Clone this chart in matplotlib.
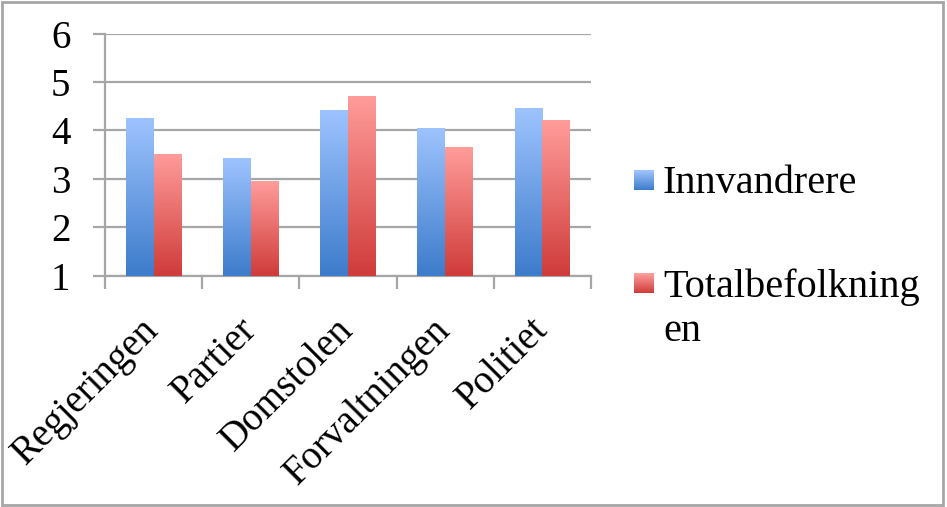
import numpy as np
import matplotlib
matplotlib.use('Agg')
import matplotlib.pyplot as plt
from matplotlib.patches import Rectangle

# data
categories = ['Regjeringen', 'Partier', 'Domstolen', 'Forvaltningen', 'Politiet']
series_names = ['Innvandrere', 'Totalbefolkning\nen']
innvandrere = [4.25, 3.43, 4.42, 4.05, 4.46]
totalbefolkning = [3.52, 2.95, 4.72, 3.65, 4.22]
y_ticks = [1, 2, 3, 4, 5, 6]

plt.rcParams['font.family'] = ['Liberation Serif', 'DejaVu Serif']
grey = '#a6a6a6'
blue_top, blue_bot = np.array([157, 195, 254]) / 255, np.array([61, 124, 203]) / 255
red_top, red_bot = np.array([255, 156, 154]) / 255, np.array([207, 60, 58]) / 255


def gradient(top, bot, n=64):
    t = np.linspace(0, 1, n)[:, None]
    return (top * (1 - t) + bot * t)[:, None, :]  # rows top -> bottom


fig = plt.figure(figsize=(9.47, 5.07), dpi=100)
ax = fig.add_axes([0.1109, 0.4562, 0.513, 0.4777])

x = np.arange(len(categories))
w = 0.284
series = [(innvandrere, blue_top, blue_bot), (totalbefolkning, red_top, red_bot)]
for k, (vals, top, bot) in enumerate(series):
    bars = ax.bar(x + (k - 0.5) * w, np.array(vals) - 1, w, bottom=1,
                  facecolor='none', edgecolor='none', zorder=3)
    for b in bars:
        x0, y0 = b.get_x(), b.get_y()
        im = ax.imshow(gradient(top, bot), extent=(x0, x0 + b.get_width(), y0, y0 + b.get_height()),
                       aspect='auto', interpolation='bilinear', zorder=3)
        im.set_clip_path(b)

ax.set_xlim(-0.5, len(categories) - 0.5)
ax.set_ylim(1, 6)
ax.set_yticks(y_ticks)
ax.yaxis.grid(True, color=grey, linewidth=1.6)
ax.set_axisbelow(True)
for s in ['top', 'right']:
    ax.spines[s].set_visible(False)
for s in ['left', 'bottom']:
    ax.spines[s].set_color(grey)
    ax.spines[s].set_linewidth(1.6)
ax.tick_params(axis='y', direction='out', length=9, width=1.6, color=grey, pad=23, labelsize=28)
ax.set_xticks(x)
ax.set_xticklabels(categories, rotation=45, ha='right', va='center', rotation_mode='anchor', fontsize=28)
ax.set_xticks(np.arange(len(categories) + 1) - 0.5, minor=True)
ax.tick_params(axis='x', which='major', length=0, pad=35)
ax.tick_params(axis='x', which='minor', direction='out', length=9, width=1.6, color=grey)
for lab in ax.get_yticklabels():
    lab.set_horizontalalignment('center')

# legend drawn by hand so the square sits on the first line of the label
leg_tops = [170, 273]
for name, (vals, top, bot), ytop in zip(series_names, series, leg_tops):
    sq = fig.add_axes([634 / 947, 1 - (ytop + 20) / 507, 20 / 947, 20 / 507])
    sq.imshow(gradient(top * 0.95 + 0.05, bot), aspect='auto', interpolation='bilinear')
    sq.axis('off')
    fig.text(663 / 947, 1 - (ytop - 5) / 507, name, fontsize=29, va='top', ha='left',
             linespacing=1.25)

fig.patches.append(Rectangle((0.002, 0.003), 0.994, 0.993, transform=fig.transFigure,
                             fill=False, edgecolor=grey, linewidth=2))
fig.savefig('out.png', dpi=100)
